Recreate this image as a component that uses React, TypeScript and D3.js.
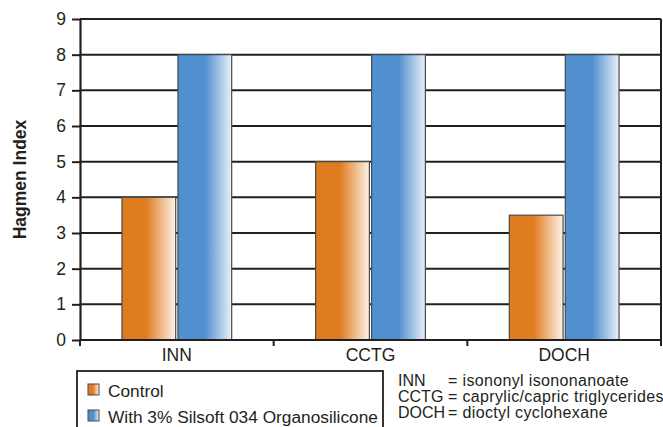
import React, { useRef, useEffect } from 'react';
import * as d3 from 'd3';

const categories = ['INN', 'CCTG', 'DOCH'];
const seriesNames = ['Control', 'With 3% Silsoft 034 Organosilicone'];
const controlValues = [4, 5, 3.5];
const silsoftValues = [8, 8, 8];
const yTicks = [0, 1, 2, 3, 4, 5, 6, 7, 8, 9];
const notes = [
  ['INN', '= isononyl isononanoate'],
  ['CCTG', '= caprylic/capric triglycerides'],
  ['DOCH', '= dioctyl cyclohexane'],
];

const W = 663;
const H = 427;
const FONT = 'Liberation Sans, Arial, Helvetica, sans-serif';

const App = () => {
  const svgRef = useRef<SVGSVGElement>(null);

  useEffect(() => {
    const svg = d3.select(svgRef.current);
    svg.selectAll('*').remove();

    const left = 80, right = 661, top = 19, bottom = 340;

    const defs = svg.append('defs');
    const grad = (id: string, c0: string, c1: string, mid: number) => {
      const g = defs.append('linearGradient').attr('id', id)
        .attr('x1', '0%').attr('x2', '100%').attr('y1', '0%').attr('y2', '0%');
      g.append('stop').attr('offset', '0%').attr('stop-color', c0);
      g.append('stop').attr('offset', mid + '%').attr('stop-color', c0);
      g.append('stop').attr('offset', '100%').attr('stop-color', c1);
    };
    grad('g-orange', '#e07c20', '#fdf3e8', 45);
    grad('g-blue', '#5090cf', '#e9f0fa', 50);
    const fills = ['url(#g-orange)', 'url(#g-blue)'];

    const x0 = d3.scaleBand().domain(categories).range([left, right]).padding(0);
    const x1 = d3.scaleBand().domain(seriesNames).range([0, x0.bandwidth()])
      .paddingInner(0.04).paddingOuter(0.75);
    const y = d3.scaleLinear().domain([0, 9]).range([bottom, top]);

    // gridlines
    svg.append('g').selectAll('line').data(yTicks.slice(1)).join('line')
      .attr('x1', left).attr('x2', right)
      .attr('y1', d => y(d)).attr('y2', d => y(d))
      .attr('stroke', '#231f20').attr('stroke-width', 2);

    // right border
    svg.append('line').attr('x1', right).attr('x2', right)
      .attr('y1', top).attr('y2', bottom)
      .attr('stroke', '#231f20').attr('stroke-width', 2);

    // bars
    const data = categories.map((c, i) => ({ c, vals: [controlValues[i], silsoftValues[i]] }));
    const groups = svg.append('g').selectAll('g').data(data).join('g')
      .attr('transform', d => `translate(${x0(d.c)},0)`);
    groups.selectAll('rect').data(d => d.vals.map((v, j) => ({ v, s: seriesNames[j], j })))
      .join('rect')
      .attr('x', d => x1(d.s)!)
      .attr('width', x1.bandwidth())
      .attr('y', d => y(d.v))
      .attr('height', d => y(0) - y(d.v))
      .attr('fill', d => fills[d.j])
      .attr('stroke', '#4a4a4a').attr('stroke-width', 1.2);

    // y axis
    const yAxis = d3.axisLeft(y).tickValues(yTicks).tickSize(8).tickSizeOuter(0);
    const ya = svg.append('g').attr('transform', `translate(${left},0)`).call(yAxis);
    ya.select('.domain').attr('stroke', '#231f20').attr('stroke-width', 2.2);
    ya.selectAll('.tick line').attr('stroke', '#231f20').attr('stroke-width', 2);
    ya.selectAll('.tick text').attr('font-family', FONT).attr('font-size', 17.5)
      .attr('fill', '#231f20').attr('x', -14);

    // x axis
    svg.append('line').attr('x1', left).attr('x2', right)
      .attr('y1', bottom).attr('y2', bottom)
      .attr('stroke', '#231f20').attr('stroke-width', 2.2);
    const bounds = [...categories.map(c => x0(c)!), right];
    svg.append('g').selectAll('line').data(bounds).join('line')
      .attr('x1', d => d).attr('x2', d => d)
      .attr('y1', bottom).attr('y2', bottom + 6)
      .attr('stroke', '#231f20').attr('stroke-width', 2);
    svg.append('g').selectAll('text').data(categories).join('text')
      .attr('x', d => x0(d)! + x0.bandwidth() / 2)
      .attr('y', bottom + 21)
      .attr('text-anchor', 'middle')
      .attr('font-family', FONT).attr('font-size', 17.5).attr('fill', '#231f20')
      .text(d => d);

    // y label
    svg.append('text')
      .attr('transform', `translate(26,${(top + bottom) / 2}) rotate(-90)`)
      .attr('text-anchor', 'middle')
      .attr('font-family', FONT).attr('font-size', 17.5).attr('font-weight', 'bold')
      .attr('fill', '#231f20')
      .text('Hagmen Index');

    // legend
    svg.append('rect').attr('x', 77).attr('y', 371).attr('width', 306).attr('height', 80)
      .attr('fill', 'none').attr('stroke', '#231f20').attr('stroke-width', 1.8);
    const lg = svg.append('g').selectAll('g').data(seriesNames).join('g')
      .attr('transform', (d, i) => `translate(88,${390 + i * 26})`);
    lg.append('rect').attr('x', 0).attr('y', -6).attr('width', 11).attr('height', 11)
      .attr('fill', (d, i) => fills[i]).attr('stroke', '#4a4a4a').attr('stroke-width', 1);
    lg.append('text').attr('x', 20).attr('y', 6.5)
      .attr('font-family', FONT).attr('font-size', 17.3).attr('fill', '#231f20')
      .text(d => d);

    // abbreviations
    const ng = svg.append('g').selectAll('g').data(notes).join('g')
      .attr('transform', (d, i) => `translate(398,${386 + i * 15.8})`);
    ng.append('text').attr('x', 0).text(d => d[0]);
    ng.append('text').attr('x', 50).attr('letter-spacing', 0.35).text(d => d[1]);
    ng.selectAll('text').attr('font-family', FONT).attr('font-size', 16)
      .attr('fill', '#231f20');
  }, []);

  return (
    <svg ref={svgRef} width={W} height={H}
      style={{ position: 'absolute', left: 0, top: 0, background: '#fff' }} />
  );
};

export default App;
